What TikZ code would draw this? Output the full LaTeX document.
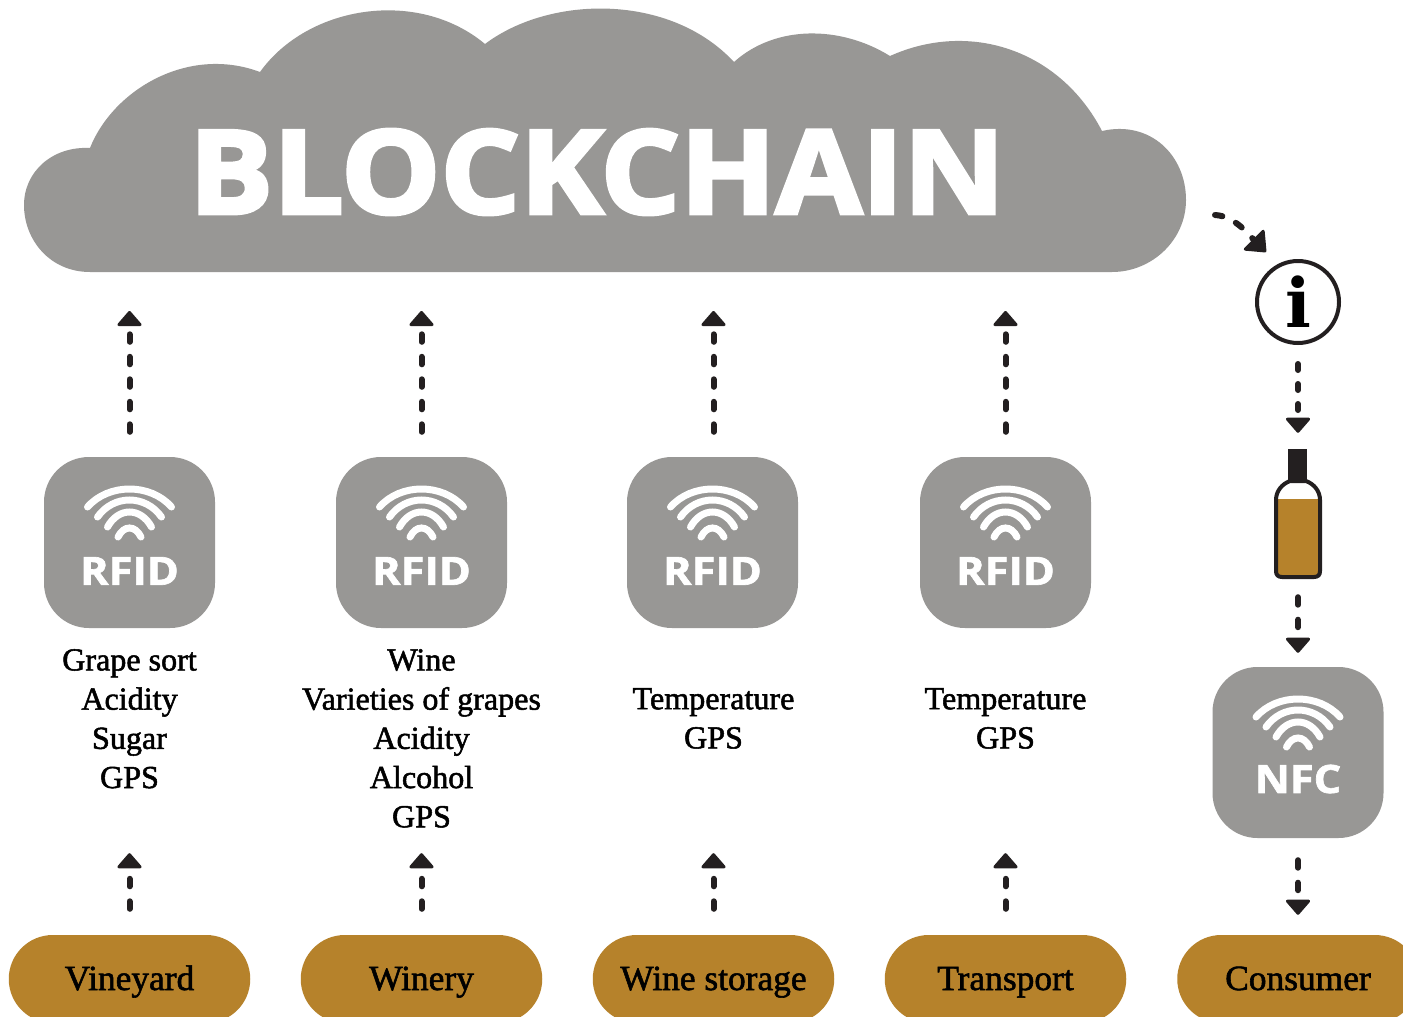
\documentclass[tikz,border=0pt]{standalone}
\usepackage{fontspec}
\usepackage{tikz}
\usetikzlibrary{arrows.meta}
\newfontfamily\labelfont[FakeBold=1.6]{Liberation Serif}
\newfontfamily\logofont[BoldFeatures={FakeBold=1.6}]{Open Sans}
\newfontfamily\cloudfont[BoldFeatures={FakeBold=3.2}]{Open Sans}
\newfontfamily\infofont{DejaVu Serif}
\definecolor{cloudgray}{HTML}{989795}
\definecolor{winegold}{HTML}{B6822B}
\definecolor{inkdark}{HTML}{231F20}
\tikzset{
  flow/.style={inkdark,line width=6pt,line cap=round,dash pattern=on 7.5pt off 15pt,-{Triangle[length=16pt,width=27pt,round,line width=3pt]}},
  bigflow/.style={flow,-{Triangle[length=19pt,width=31pt,round,line width=3pt]}},
  tagbox/.style={fill=cloudgray,rounded corners=45pt,minimum size=171pt,inner sep=0pt},
  tagtext/.style={white,font=\logofont\fontsize{39}{39}\selectfont\bfseries,inner sep=0pt},
  stage/.style={fill=winegold,rounded corners=44pt,minimum width=241.5pt,minimum height=88pt,inner sep=0pt,text height=22pt,text depth=0pt,font=\labelfont\fontsize{35.4}{36}\selectfont},
  datalist/.style={align=center,inner sep=0pt,anchor=north,font=\labelfont\fontsize{32.1}{39.2}\selectfont},
  wifi/.pic={
    \foreach \hw/\ey/\sag in {42/507/18,32/517/17,22/527/15,11.5/537/9}
      \draw[white,line width=7pt,line cap=round] (-\hw,\ey-545) .. controls (-\hw/2,\ey-545-\sag/.75) and (\hw/2,\ey-545-\sag/.75) .. (\hw,\ey-545);
  }
}
\begin{document}
\begin{tikzpicture}[x=1pt,y=-1pt]
      \clip (0,0) rectangle (1403,1017);
      \fill[white] (0,0) rectangle (1403,1017);
      \fill[cloudgray] (90,272) .. controls (50,272) and (24,240) .. (24,205)
        .. controls (24,172) and (52,146) .. (90,148)
        .. controls (113,90) and (188,45) .. (260,72)
        .. controls (308,5) and (418,-12) .. (485,44)
        .. controls (550,-5) and (670,-7) .. (734,62)
        .. controls (775,25) and (840,25) .. (890,56)
        .. controls (970,20) and (1060,50) .. (1102,131)
        .. controls (1150,120) and (1186,155) .. (1186,200)
        .. controls (1186,240) and (1152,272) .. (1112,272) -- cycle;
      \node[white,inner sep=0pt,font=\cloudfont\fontsize{116}{116}\selectfont\bfseries] (blockchain) at (597,172) {\scalebox{1.077}[1]{BLOCKCHAIN}};
      \coordinate (cloudA) at (129.5,272);
      \coordinate (cloudB) at (421.5,272);
      \coordinate (cloudC) at (713.5,272);
      \coordinate (cloudD) at (1005.5,272);
      \coordinate (cloudR) at (1215,215);
      \coordinate (infoT) at (1266,252);
      \node[tagbox] (rfidA) at (129.5,542.5) {};
      \node[tagbox] (rfidB) at (421.5,542.5) {};
      \node[tagbox] (rfidC) at (712.5,542.5) {};
      \node[tagbox] (rfidD) at (1005.5,542.5) {};
      \node[tagbox] (nfc) at (1298,752.5) {};
      \pic at (129.5,545) {wifi};
      \pic at (421.5,545) {wifi};
      \pic at (712.5,545) {wifi};
      \pic at (1005.5,545) {wifi};
      \pic at (1298,755) {wifi};
      \node[tagtext] at (129.5,571) {\scalebox{1.11}[1]{RFID}};
      \node[tagtext] at (421.5,571) {\scalebox{1.11}[1]{RFID}};
      \node[tagtext] at (712.5,571) {\scalebox{1.11}[1]{RFID}};
      \node[tagtext] at (1005.5,571) {\scalebox{1.11}[1]{RFID}};
      \node[tagtext] at (1298,779) {\scalebox{1.11}[1]{NFC}};
      \node[datalist] (listA) at (129.5,649) {Grape sort\\Acidity\\Sugar\\GPS};
      \node[datalist] (listB) at (421.5,649) {Wine\\Varieties of grapes\\Acidity\\Alcohol\\GPS};
      \node[datalist] (listC) at (713.5,688) {Temperature\\GPS};
      \node[datalist] (listD) at (1005.5,688) {Temperature\\GPS};
      \node[stage] (vineyard) at (129.5,979) {Vineyard};
      \node[stage] (winery) at (421.5,979) {Winery};
      \node[stage] (storage) at (713.5,979) {Wine storage};
      \node[stage] (transport) at (1005.5,979) {Transport};
      \node[stage] (consumer) at (1298,979) {Consumer};
      \node[circle,draw=inkdark,line width=4pt,fill=white,minimum size=82pt,inner sep=0pt,font=\infofont\fontsize{68}{68}\selectfont\bfseries] (info) at (1298,302) {i};
      \node[minimum width=48pt,minimum height=130pt,inner sep=0pt] (bottle) at (1298,514) {};
      \fill[inkdark] (1288,449) rectangle (1307,482);
      \fill[winegold] (1276,499) rectangle (1320,577);
      \draw[inkdark,line width=4pt,line join=round] (1290,481) -- (1306,481)
        .. controls (1314,484) and (1320,491) .. (1320,500) -- (1320,571)
        .. controls (1320,575) and (1318,577) .. (1314,577) -- (1282,577)
        .. controls (1278,577) and (1276,575) .. (1276,571) -- (1276,500)
        .. controls (1276,491) and (1282,484) .. (1290,481);
      \draw[flow,shorten <=25pt,shorten >=39pt] (rfidA.north) -- (cloudA);
      \draw[flow,shorten <=25pt,shorten >=39pt] (rfidB.north) -- (cloudB);
      \draw[flow,shorten <=25pt,shorten >=39pt] ([xshift=1pt]rfidC.north) -- (cloudC);
      \draw[flow,shorten <=25pt,shorten >=39pt] (rfidD.north) -- (cloudD);
      \draw[flow,shorten <=26pt,shorten >=225pt] (vineyard.north) -- (rfidA.south);
      \draw[flow,shorten <=26pt,shorten >=225pt] (winery.north) -- (rfidB.south);
      \draw[flow,shorten <=26pt,shorten >=225pt] (storage.north) -- ([xshift=1pt]rfidC.south);
      \draw[flow,shorten <=26pt,shorten >=225pt] (transport.north) -- (rfidD.south);
      \draw[bigflow] (cloudR) .. controls (1235,216) and (1250,236) .. (infoT);
      \draw[flow,dash pattern=on 6pt off 14pt,shorten <=19pt,shorten >=16pt] (info.south) -- (bottle.north);
      \draw[flow,shorten <=18pt,shorten >=14pt] (bottle.south) -- (nfc.north);
      \draw[flow,shorten <=22pt,shorten >=20pt] (nfc.south) -- (consumer.north);
    \end{tikzpicture}
\end{document}
